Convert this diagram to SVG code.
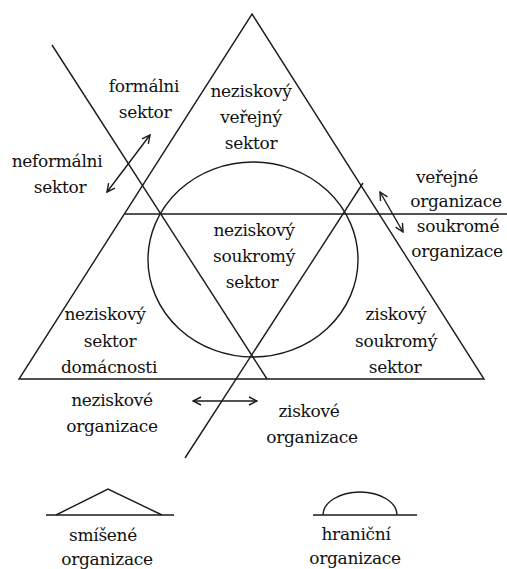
<svg xmlns="http://www.w3.org/2000/svg" width="507" height="569" viewBox="0 0 507 569">
<style>
.ln{fill:none;stroke:#1a1a1a;stroke-width:1.4}
.ar{fill:none;stroke:#1a1a1a;stroke-width:1.4;marker-start:url(#ah);marker-end:url(#ah)}
text{font-family:"DejaVu Serif","Liberation Serif",serif;font-size:17px;letter-spacing:-0.3px;fill:#111;text-anchor:middle}
</style>
<defs>
<marker id="ah" viewBox="0 0 10 10" refX="9" refY="5" markerWidth="10" markerHeight="10" markerUnits="userSpaceOnUse" orient="auto-start-reverse">
<path d="M1,1 L9,5 L1,9" fill="none" stroke="#1a1a1a" stroke-width="1.4"/>
</marker>
</defs>
<rect width="507" height="569" fill="#fff"/>
<g id="shapes">
<polygon id="triangle" class="ln" points="252,14 484,379 19,379"/>
<ellipse id="circle" class="ln" cx="253" cy="259.5" rx="105" ry="97.5"/>
<line id="hline" class="ln" x1="125" y1="214" x2="507" y2="214"/>
<line id="diag1" class="ln" x1="52" y1="45" x2="267" y2="379"/>
<line id="diag2" class="ln" x1="363" y1="183" x2="185" y2="458"/>
</g>
<g id="connectors">
<line class="ar" x1="107" y1="192" x2="150" y2="135"/>
<line class="ar" x1="380" y1="192" x2="403" y2="232"/>
<line class="ar" x1="193" y1="401" x2="257" y2="401"/>
</g>
<g id="n-formalni"><text x="144" y="92">formálni</text><text x="145" y="118">sektor</text></g>
<g id="n-neformalni"><text x="57" y="167">neformálni</text><text x="60" y="193">sektor</text></g>
<g id="n-verejny"><text x="251" y="97">neziskový</text><text x="251" y="123">veřejný</text><text x="251" y="149">sektor</text></g>
<g id="n-verejne-org"><text x="447" y="183">veřejné</text><text x="456" y="207">organizace</text></g>
<g id="n-soukrome-org"><text x="458" y="232">soukromé</text><text x="457" y="257">organizace</text></g>
<g id="n-soukromy"><text x="254" y="236">neziskový</text><text x="254" y="262">soukromý</text><text x="252" y="288">sektor</text></g>
<g id="n-domacnosti"><text x="105" y="320">neziskový</text><text x="110" y="347">sektor</text><text x="109" y="373">domácnosti</text></g>
<g id="n-ziskovy"><text x="396" y="320">ziskový</text><text x="396" y="347">soukromý</text><text x="395" y="373">sektor</text></g>
<g id="n-neziskove-org"><text x="112" y="406">neziskové</text><text x="112" y="432">organizace</text></g>
<g id="n-ziskove-org"><text x="309" y="417">ziskové</text><text x="312" y="443">organizace</text></g>
<g id="n-smisene">
<line class="ln" x1="46" y1="515" x2="174" y2="515"/>
<polyline class="ln" points="56,515 108,489 162,515"/>
<text x="103" y="541">smíšené</text><text x="107" y="565">organizace</text>
</g>
<g id="n-hranicni">
<line class="ln" x1="313" y1="515" x2="417" y2="515"/>
<path class="ln" d="M323,515 A37,23 0 0 1 397,515"/>
<text x="356" y="540">hraniční</text><text x="355" y="564">organizace</text>
</g>
</svg>
